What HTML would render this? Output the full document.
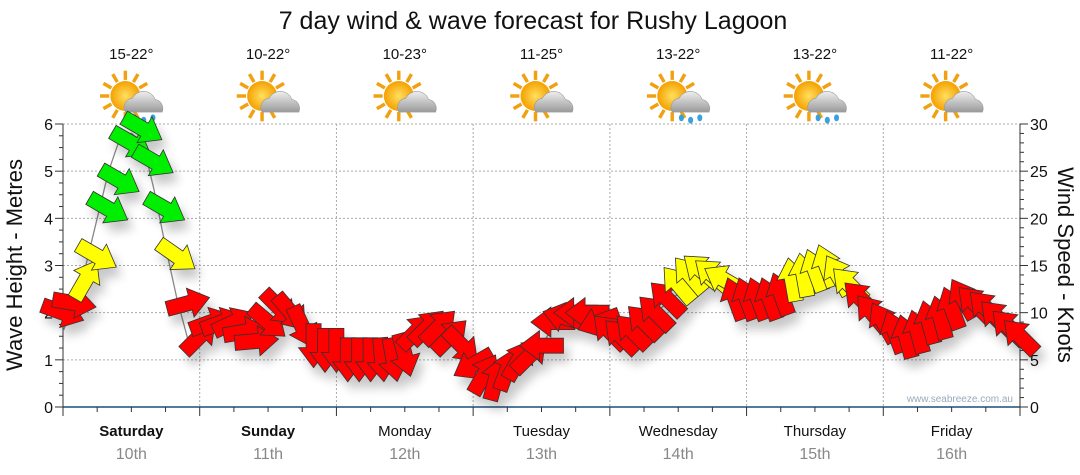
<!DOCTYPE html>
<html><head><meta charset="utf-8"><style>
body{margin:0;background:#fff;font-family:"Liberation Sans",sans-serif;}
svg{display:block}
</style></head><body>
<svg id="chart" width="1080" height="475" xmlns="http://www.w3.org/2000/svg">
<defs>
<filter id="sh" x="-50%" y="-50%" width="200%" height="200%"><feGaussianBlur in="SourceAlpha" stdDeviation="5"/><feOffset dx="5" dy="9"/><feComponentTransfer><feFuncA type="linear" slope="0.22"/></feComponentTransfer><feMerge><feMergeNode/><feMergeNode in="SourceGraphic"/></feMerge></filter>
<radialGradient id="sun" cx="0.5" cy="0.5" r="0.5"><stop offset="0" stop-color="#ffe060"/><stop offset="1" stop-color="#f5a000"/></radialGradient>
<linearGradient id="cloud" x1="0" y1="0" x2="0" y2="1"><stop offset="0" stop-color="#eeeeee"/><stop offset="1" stop-color="#9a9a9a"/></linearGradient>
</defs>
<text x="533" y="29" text-anchor="middle" font-size="25" fill="#111">7 day wind &amp; wave forecast for Rushy Lagoon</text>
<g id="grid"></g><g id="axes"></g><g id="icons"></g>
<path id="wave" fill="none" stroke="#888" stroke-width="1.3"/>
<g id="arrows" filter="url(#sh)"></g>
<text x="1013" y="402" text-anchor="end" font-size="10" fill="#9ab">www.seabreeze.com.au</text>
<text transform="translate(22,265) rotate(-90)" text-anchor="middle" font-size="22" fill="#111">Wave Height - Metres</text>
<text transform="translate(1058,265) rotate(90)" text-anchor="middle" font-size="22" fill="#111">Wind Speed - Knots</text>
</svg>
<script>
const days=["Saturday","Sunday","Monday","Tuesday","Wednesday","Thursday","Friday"];
const dates=["10th","11th","12th","13th","14th","15th","16th"];
const temps=["15-22°","10-22°","10-23°","11-25°","13-22°","13-22°","11-22°"];
const rain=[true,false,false,false,true,true,false];
const windSpeed=[10,11,13.5,16,21,24,28,29.5,26,21,16,11,
 7.5,9,9,9,8,7,9,10.5,10,8.5,6.5,6,
 6,5,5,5,5,5,5.5,8,8.5,8.5,7.5,6.5,
 4.5,3.5,3,4,5,5.5,6.5,9,9.5,10,10,9,
 8,7.5,8,9,10,11.5,13,14,14.5,14,13.5,11.5,
 11.5,11.5,11.5,12,13.5,14,14.5,15,14,13,11.5,10,
 9,8,7.5,8,9,9.5,10.5,11.5,11,10.5,9.5,8.5,7.5];
const windDir=[20,10,-60,30,30,30,30,30,30,30,35,-15,
 -45,-20,-20,-25,-10,-5,40,45,50,65,90,90,
 90,90,90,90,85,80,75,-45,-45,-45,-45,45,
 150,-60,-75,-70,-60,-45,180,180,-165,180,180,160,
 -135,-135,-135,-135,-135,-135,-130,-130,-140,-140,-150,-110,
 -110,-110,-110,-110,-100,-100,-110,-110,-120,-135,-135,-130,
 -120,-110,-105,-105,-105,-105,-110,-120,-135,-135,-135,-135,-135];
const waveHeight=[1.6,2.2,3.0,4.0,5.0,5.7,5.8,5.6,4.6,3.4,2.3,1.4,
 1.6,1.8,1.8,1.7,1.6,1.5,1.7,1.9,1.8,1.6,1.3,1.1,
 1.0,1.0,1.0,1.0,1.0,1.0,1.1,1.5,1.6,1.6,1.4,1.2,
 0.9,0.7,0.6,0.8,1.0,1.1,1.3,1.7,1.8,1.9,1.9,1.8,
 1.6,1.5,1.6,1.8,2.0,2.2,2.4,2.6,2.7,2.6,2.5,2.2,
 2.2,2.2,2.2,2.3,2.5,2.6,2.7,2.8,2.6,2.4,2.2,1.9,
 1.7,1.6,1.5,1.6,1.7,1.8,2.0,2.2,2.1,2.0,1.8,1.6,1.4];
const leftTicks=[0,1,2,3,4,5,6];
const rightTicks=[0,5,10,15,20,25,30];

const NS="http://www.w3.org/2000/svg";
const X0=63,X1=1020,Y0=407,Y1=124,DW=(X1-X0)/7,STEP=DW/12;
const xIdx=i=>X0+i*STEP;
const yM=m=>Y0-(m/6)*(Y0-Y1);
const yK=k=>Y0-(k/30)*(Y0-Y1);
function el(t,a,p){const e=document.createElementNS(NS,t);for(const k in a)e.setAttribute(k,a[k]);p.appendChild(e);return e;}
const grid=document.getElementById('grid'),axes=document.getElementById('axes'),icons=document.getElementById('icons');
leftTicks.forEach(v=>{if(v>0){const g=el('line',{x1:X0,x2:X1,y1:yM(v),y2:yM(v),stroke:'#aaa','stroke-dasharray':'2,2'},grid);

}
const t=el('text',{x:X0-10,y:yM(v)+6,'text-anchor':'end','font-size':16,fill:'#111'},axes);t.textContent=v;

});
rightTicks.forEach(v=>{const t=el('text',{x:X1+10,y:yK(v)+6,'font-size':16,fill:'#111'},axes);t.textContent=v;

});
for(let q=0;q<=24;q++){el('line',{x1:X0,x2:X0-(q%4?4:8),y1:yM(q/4),y2:yM(q/4),stroke:'#333'},axes);}
for(let k=0;k<=30;k++){el('line',{x1:X1,x2:X1+(k%5?4:8),y1:yK(k),y2:yK(k),stroke:'#333'},axes);}
el('line',{x1:X0,x2:X0,y1:Y1,y2:Y0,stroke:'#333'},axes);
el('line',{x1:X1,x2:X1,y1:Y1,y2:Y0,stroke:'#333'},axes);
const xa=el('line',{x1:X0,x2:X1,y1:Y0,y2:Y0,stroke:'#1b4f7a','stroke-width':1.5},axes);


for(let q=0;q<=28;q++){const x=X0+q*DW/4;el('line',{x1:x,x2:x,y1:Y0,y2:Y0+(q%4?5:9),stroke:'#333'},axes);}
days.forEach((d,i)=>{
 const cx=X0+DW*(i+0.5);
 if(i>0){const g=el('line',{x1:X0+DW*i,x2:X0+DW*i,y1:Y1,y2:Y0,stroke:'#aaa','stroke-dasharray':'2,2'},grid);
 
 }
 const t=el('text',{x:cx,y:436,'text-anchor':'middle','font-size':15,fill:'#111','font-weight':i<2?'bold':'normal'},axes);t.textContent=d;
 
 
 const t2=el('text',{x:cx,y:459,'text-anchor':'middle','font-size':16,fill:'#888'},axes);t2.textContent=dates[i];
 
 
 const t3=el('text',{x:cx,y:59,'text-anchor':'middle','font-size':15,fill:'#111'},icons);t3.textContent=temps[i];
 
 
 const g=el('g',{transform:`translate(${cx-6},${96}) scale(1.15)`},icons);
 
 
 for(let r=0;r<12;r++){const a=r*Math.PI/6;el('line',{x1:Math.cos(a)*14,y1:Math.sin(a)*14,x2:Math.cos(a)*22,y2:Math.sin(a)*22,stroke:'#f0a010','stroke-width':3},g);}
 el('circle',{cx:0,cy:0,r:13,fill:'url(#sun)'},g);
 el('path',{d:'M0,14 a8,8 0 0 1 6,-12 a11,11 0 0 1 20,1 a8,8 0 0 1 6,11 z',fill:'url(#cloud)',stroke:'#999','stroke-width':0.5},g);
 if(rain[i]){[[8,19],[16,21],[24,19]].forEach(p=>el('ellipse',{cx:p[0],cy:p[1],rx:2.2,ry:3,fill:'#3aa0e0'},g));}
});
let d='';waveHeight.forEach((m,i)=>{d+=(i?'L':'M')+xIdx(i).toFixed(1)+','+yM(m).toFixed(1);});
document.getElementById('wave').setAttribute('d',d);
const arrows=document.getElementById('arrows');
const shape='M-22,-7.5 L2,-7.5 L2,-15 L22,0 L2,15 L2,7.5 L-22,7.5 Z';
windSpeed.forEach((k,i)=>{
 const c=k>20?'#00ee00':(k>=12.5?'#ffff00':'#ff0000');
 const p=el('path',{d:shape,fill:c,stroke:'#333','stroke-width':0.8,transform:`translate(${xIdx(i).toFixed(1)},${yK(k).toFixed(1)}) rotate(${windDir[i]})`},arrows);
 
 
});
</script>
</body></html>
